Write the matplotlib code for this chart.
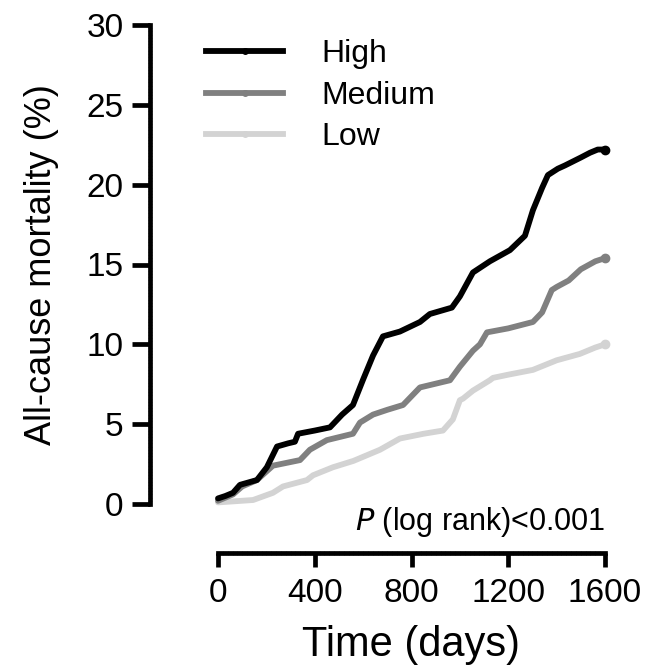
import matplotlib
matplotlib.use("Agg")
import matplotlib.pyplot as plt
from matplotlib.lines import Line2D
from matplotlib.ticker import MultipleLocator

plt.rcParams['font.family'] = ['Liberation Sans', 'DejaVu Sans']

# ---- data ----
high_days = [0, 30, 62, 91, 161, 202, 244, 290, 318, 331, 400, 463, 513, 558, 600, 641,
             682, 752, 835, 876, 967, 1000, 1054, 1124, 1207, 1269, 1302, 1340, 1364,
             1405, 1434, 1500, 1538, 1570, 1600]
high_vals = [0.35, 0.5, 0.7, 1.2, 1.5, 2.3, 3.6, 3.8, 3.9, 4.4, 4.6, 4.8, 5.6, 6.2, 7.8, 9.3,
             10.5, 10.8, 11.4, 11.9, 12.3, 13.0, 14.5, 15.2, 15.9, 16.8, 18.4, 19.8, 20.6,
             21.0, 21.2, 21.7, 22.0, 22.2, 22.2]

med_days = [0, 62, 100, 161, 227, 339, 380, 450, 558, 587, 641, 700, 765, 835, 959, 1000,
            1054, 1083, 1112, 1200, 1302, 1340, 1380, 1401, 1450, 1500, 1560, 1600]
med_vals = [0.2, 0.6, 1.1, 1.5, 2.4, 2.75, 3.4, 4.0, 4.4, 5.1, 5.6, 5.9, 6.2, 7.3, 7.75, 8.6,
            9.6, 10.0, 10.75, 11.0, 11.4, 12.0, 13.4, 13.6, 14.0, 14.7, 15.2, 15.4]

low_days = [0, 145, 227, 269, 368, 393, 475, 560, 670, 752, 850, 930, 971, 1000, 1013,
            1054, 1124, 1137, 1200, 1302, 1400, 1496, 1560, 1600]
low_vals = [0.1, 0.25, 0.7, 1.1, 1.5, 1.8, 2.3, 2.7, 3.4, 4.1, 4.4, 4.6, 5.3, 6.5, 6.6,
            7.1, 7.75, 7.9, 8.1, 8.4, 9.0, 9.4, 9.8, 10.0]

series_names = ["High", "Medium", "Low"]
series_colors = ["#000000", "#808080", "#d3d3d3"]
x_ticks = [0, 400, 800, 1200, 1600]
y_ticks = [0, 5, 10, 15, 20, 25, 30]

# ---- figure ----
fig = plt.figure(figsize=(6.48, 6.66), dpi=100)
ax = fig.add_axes([218/648, 1 - 504/666, 387/648, 479/666])

data = [(low_days, low_vals), (med_days, med_vals), (high_days, high_vals)]
cols = [series_colors[2], series_colors[1], series_colors[0]]
for (d, v), c in zip(data, cols):
    ax.plot(d, v, color=c, lw=4.2, solid_capstyle='round', solid_joinstyle='round',
            marker='o', markersize=6, markevery=[len(d) - 1], clip_on=False)

ax.set_xlim(0, 1600)
ax.set_ylim(0, 30)
ax.set_xticks(x_ticks)
ax.set_yticks(y_ticks)
ax.xaxis.set_minor_locator(MultipleLocator(20))
ax.yaxis.set_minor_locator(MultipleLocator(0.2))

for s in ['top', 'right']:
    ax.spines[s].set_visible(False)
ax.spines['left'].set_position(('outward', 49))
ax.spines['bottom'].set_position(('outward', 35))
ax.spines['left'].set_bounds(0, 30)
ax.spines['bottom'].set_bounds(0, 1600)
for s in ['left', 'bottom']:
    ax.spines[s].set_linewidth(3.4)
    ax.spines[s].set_capstyle('projecting')

ax.tick_params(axis='y', which='major', length=13, width=3.4, pad=6, labelsize=24)
ax.tick_params(axis='x', which='major', length=10, width=3.4, pad=8, labelsize=24)
ax.tick_params(which='minor', direction='inout', length=3, width=0.4, color='#606060')

ax.set_ylabel("All-cause mortality (%)", fontsize=26, labelpad=20)
ax.set_xlabel("Time (days)", fontsize=30, labelpad=12)

ax.text(1600, -1.1, r"$\it{P}$ (log rank)<0.001", ha='right', va='center', fontsize=22)

handles = [Line2D([], [], color=c, lw=4.2, marker='o', markersize=4)
           for c in series_colors]
ax.legend(handles, series_names, loc='upper left', bbox_to_anchor=(-0.03, 0.97),
          frameon=False, fontsize=23, handlelength=2.4, handletextpad=1.2,
          labelspacing=0.36, borderpad=0, borderaxespad=0)

fig.savefig("out.png", dpi=100)
